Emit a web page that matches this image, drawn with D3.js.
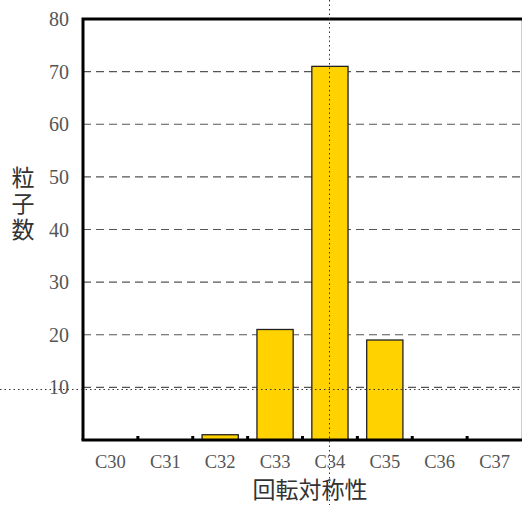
<!DOCTYPE html>
<html><head><meta charset="utf-8">
<script src="https://cdn.jsdelivr.net/npm/d3@7"></script>
<style>body{margin:0;background:#fff}</style>
</head><body>
<script>
const categories = ["C30","C31","C32","C33","C34","C35","C36","C37"];
const values = [0,0,1,21,71,19,0,0];
const yTicks = [10,20,30,40,50,60,70,80];
const yTitle = "粒子数";
const xTitle = "回転対称性";

const W=522,H=505;
const m={l:83,t:19,r:522,b:440};
const svg=d3.select("body").append("svg").attr("width",W).attr("height",H);
const x=d3.scaleBand().domain(categories).range([m.l,m.r]).paddingInner(0.34).paddingOuter(0.17);
const xb=d3.scaleBand().domain(categories).range([m.l,m.r]);
const y=d3.scaleLinear().domain([0,80]).range([m.b,m.t]);

// grid
svg.append("g").selectAll("line").data(yTicks.filter(d=>d<80)).join("line")
 .attr("x1",m.l).attr("x2",m.r).attr("y1",d=>y(d)).attr("y2",d=>y(d))
 .attr("stroke","#555").attr("stroke-width",1.2).attr("stroke-dasharray","8,5");

// bars
svg.append("g").selectAll("rect").data(values.map((v,i)=>({c:categories[i],v}))).join("rect")
 .attr("x",d=>x(d.c)).attr("width",x.bandwidth())
 .attr("y",d=>y(d.v)).attr("height",d=>y(0)-y(d.v))
 .attr("fill","#FFD200").attr("stroke","#222").attr("stroke-width",1.3);

// right border
svg.append("line").attr("x1",521.5).attr("x2",521.5).attr("y1",m.t).attr("y2",m.b).attr("stroke","#ccc").attr("stroke-width",1);

// frame
svg.append("path").attr("d",`M${m.l},${m.b}V${m.t}H${W}`).attr("fill","none").attr("stroke","#000").attr("stroke-width",3);
svg.append("line").attr("x1",m.l-1.5).attr("x2",W).attr("y1",m.b).attr("y2",m.b).attr("stroke","#000").attr("stroke-width",3);

// small ticks at band boundaries
svg.append("g").selectAll("rect").data(categories.slice(1)).join("rect")
 .attr("x",d=>xb(d)-1.5).attr("width",3).attr("y",m.b-4).attr("height",4).attr("fill","#000");

// y tick labels
svg.append("g").selectAll("text").data(yTicks).join("text")
 .attr("x",69).attr("y",d=>y(d)).attr("dy","0.35em").attr("text-anchor","end")
 .attr("font-family","Liberation Serif, serif").attr("font-size",20).attr("fill","#555").text(d=>d);

// x tick labels
svg.append("g").selectAll("text").data(categories).join("text")
 .attr("x",d=>xb(d)+xb.bandwidth()/2).attr("y",462).attr("dy","0.35em").attr("text-anchor","middle")
 .attr("font-family","Liberation Serif, serif").attr("font-size",18.5).attr("fill","#555").text(d=>d);

// titles
svg.append("text").attr("x",23).attr("y",205).attr("text-anchor","middle")
 .style("writing-mode","vertical-rl").style("text-orientation","upright")
 .attr("letter-spacing",3)
 .attr("font-family","Noto Sans CJK JP, sans-serif").attr("font-size",23).attr("fill","#333").text(yTitle);
svg.append("text").attr("x",310).attr("y",490).attr("dy","0.35em").attr("text-anchor","middle")
 .attr("font-family","Noto Sans CJK JP, sans-serif").attr("font-size",23).attr("fill","#333").text(xTitle);

// crosshair
svg.append("line").attr("x1",329.5).attr("x2",329.5).attr("y1",0).attr("y2",H)
 .attr("stroke","#333").attr("stroke-width",1).attr("stroke-dasharray","1.5,3");
svg.append("line").attr("x1",0).attr("x2",W).attr("y1",389.5).attr("y2",389.5)
 .attr("stroke","#333").attr("stroke-width",1).attr("stroke-dasharray","1.5,3");
</script>
</body></html>
